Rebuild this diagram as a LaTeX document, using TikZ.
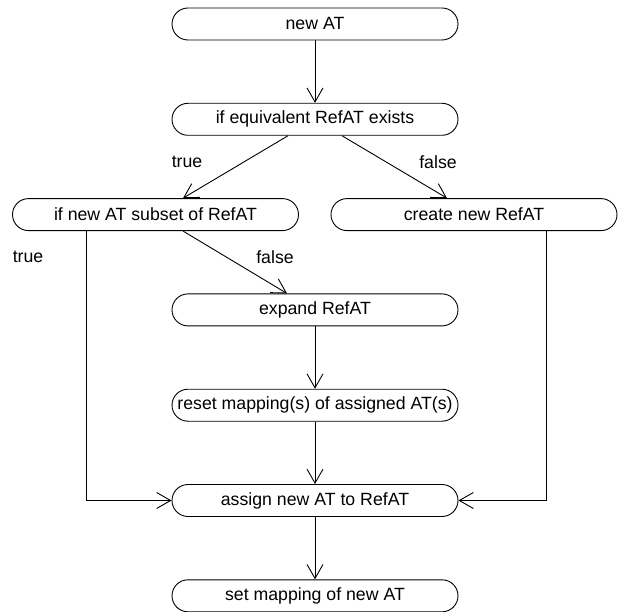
\documentclass[tikz,border=0pt]{standalone}
\usepackage{fontspec}
\setmainfont{Liberation Sans}
\usetikzlibrary{positioning}
\usetikzlibrary{arrows.meta}
\tikzset{>={Straight Barb[length=14pt,width=16pt]}}
\tikzset{
    action/.style={draw, line width=0.9pt, rounded corners=16pt,
        minimum width=286pt, minimum height=32pt, inner sep=0pt,
        font=\fontsize{17.7}{21}\selectfont},
    guard/.style={font=\fontsize{17.7}{21}\selectfont},
    flow/.style={->, line width=0.9pt}
}
\begin{document}
\begin{tikzpicture}
        \useasboundingbox (0pt,0pt) rectangle (618pt,-612pt);
        \node[action] (newAT) at (315pt,-24pt) {new AT};
        % check
        \node[action, below=62.4pt of newAT] (check) {if equivalent RefAT exists};
        \draw[flow] (newAT) -- (check);
        % branches
        \node[action, below=62.4pt of check, xshift=-159.5pt] (subset) {if new AT subset of RefAT};
        \node[action, below=62.4pt of check, xshift=159pt] (create) {create new RefAT};
        \draw[flow] ([xshift=-27pt]check.south) -- ([xshift=27.5pt]subset.north);
        \draw[flow] ([xshift=27pt]check.south) -- ([xshift=-27pt]create.north);
        \node[guard] (trueA) at (187pt,-162pt) {true};
        \node[guard] (falseA) at (438pt,-162pt) {false};
        % expand
        \node[action, below=157.7pt of check] (expand) {expand RefAT};
        \draw[flow] ([xshift=27.5pt]subset.south) -- ([xshift=-28pt]expand.north);
        \node[guard] (trueB) at (28pt,-257pt) {true};
        \node[guard] (falseB) at (275pt,-257pt) {false};
        % reset
        \node[action, below=62.4pt of expand] (reset) {reset mapping(s) of assigned AT(s)};
        \draw[flow] (expand) -- (reset);
        % assign
        \node[action, below=62.4pt of reset] (assign) {assign new AT to RefAT};
        \draw[flow] (reset) -- (assign);
        \draw[flow] ([xshift=-69.5pt]subset.south) |- (assign.west);
        \draw[flow] ([xshift=72pt]create.south) |- (assign.east);
        % mapping
        \node[action, below=62.4pt of assign] (mapping) {set mapping of new AT};
        \draw[flow] (assign) -- (mapping);
\end{tikzpicture}
\end{document}
